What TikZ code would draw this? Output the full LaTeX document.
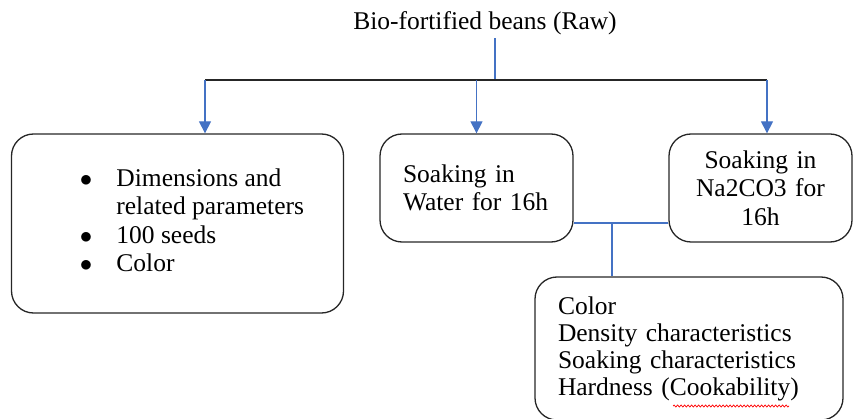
\documentclass[tikz,border=0pt]{standalone}
\usepackage{fontspec}
\setmainfont{Liberation Serif}
\usetikzlibrary{arrows.meta,positioning,calc,decorations.pathmorphing}
\definecolor{wordblue}{RGB}{68,114,196}
\tikzstyle{box} = [draw=black!85, line width=1.3pt, rectangle, rounded corners=22pt, inner ysep=0pt, font=\fontsize{25.5}{28.5}\selectfont]
\tikzstyle{line} = [draw=wordblue, line width=1.2pt, -{Triangle[length=12pt,width=12pt]}]
\tikzstyle{link} = [draw=wordblue, line width=1.2pt]

\begin{document}
\begin{tikzpicture}[x=1pt, y=-1pt]
    \useasboundingbox (0,0) rectangle (853,419);
    \node [font=\fontsize{25.5}{28.5}\selectfont] (beans) at (485,23) {Bio-fortified beans (Raw)};
    \node [box, minimum width=332pt, minimum height=179pt] (dims) at (177.5,223.5) {%
        \begin{tabular}{@{\hspace{29pt}}c@{\hspace{24pt}}l@{}}
        $\bullet$ & Dimensions and\\
                  & related parameters\\
        $\bullet$ & 100 seeds\\
        $\bullet$ & Color
        \end{tabular}};
    \node [box, minimum width=193pt, minimum height=108pt, inner xsep=23pt, text width=147pt, align=left] (soakw) at (476.5,188) {Soaking in\\Water for 16h};
    \node [box, minimum width=183pt, minimum height=108pt, text width=160pt, align=center] (soakna) at (760.5,188) {Soaking in\\Na2CO3 for\\16h};
    \node [box, minimum width=308pt, minimum height=143pt, inner xsep=23pt, text width=262pt, align=left, font=\fontsize{25.5}{27}\selectfont] (props) at (689,348.5) {Color\\Density characteristics\\Soaking characteristics\\Hardness (Cookability)};

    \coordinate (hub) at (495,80);
    \coordinate (barL) at (205,80);
    \coordinate (barR) at (767,80);
    \coordinate (join) at (612,223);

    \path [link] (beans.south -| hub) -- (hub);
    \draw [black!85, line width=1.5pt] (barL) -- (barR);
    \path [line] (barL) -- (barL |- dims.north);
    \path [line] (soakw.north |- barL) -- (soakw.north);
    \path [line] (barR) -- (barR |- soakna.north);
    \path [link] (soakw.east |- join) -- (soakna.west |- join);
    \path [link] (join) -- (join |- props.north);

    \draw [red, line width=0.7pt, decorate, decoration={snake, amplitude=1pt, segment length=3.5pt}] (673,406) -- (789,406);
\end{tikzpicture}
\end{document}
